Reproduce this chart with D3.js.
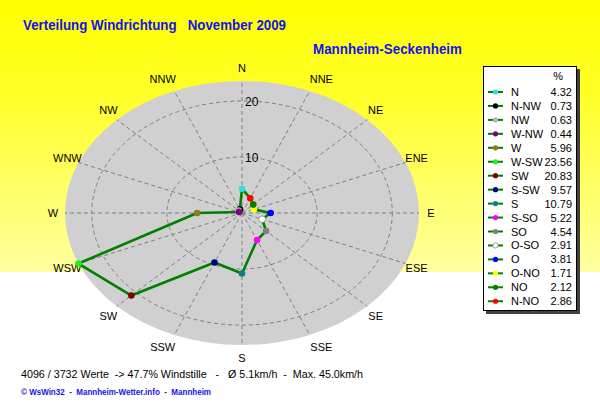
<!DOCTYPE html>
<html><head><meta charset="utf-8">
<script src="https://cdn.jsdelivr.net/npm/d3@7"></script>
<style>
html,body{margin:0;padding:0;background:#fff;}
svg{display:block;font-family:"Liberation Sans",Arial,sans-serif;}
</style></head>
<body>
<svg id="chart" width="600" height="412"></svg>
<script>
// ---- data ----
const legendLabels = ["N","N-NW","NW","W-NW","W","W-SW","SW","S-SW","S","S-SO","SO","O-SO","O","O-NO","NO","N-NO"];
const values = [4.32,0.73,0.63,0.44,5.96,23.56,20.83,9.57,10.79,5.22,4.54,2.91,3.81,1.71,2.12,2.86];
const markerColors = ["#33DDDD","#000000","#B4B4B4","#800080","#8B7B1A","#22EE22","#800000","#000080","#108080","#FF00FF","#808080","#FFFFFF","#0000FF","#FFFF00","#008000","#FF0000"];
const axisLabels = ["N","NNE","NE","ENE","E","ESE","SE","SSE","S","SSW","SW","WSW","W","WNW","NW","NNW"];
const ringTicks = [10, 20];
const titleText = "Verteilung Windrichtung   November 2009";
const stationText = "Mannheim-Seckenheim";
const statsText = "4096 / 3732 Werte  -> 47.7% Windstille   -   Ø 5.1km/h  -  Max. 45.0km/h";
const footerText = "© WsWin32  -  Mannheim-Wetter.info  -  Mannheim";

// ---- layout ----
const svg = d3.select("#chart");
const W = 600, H = 412;
const cx = 242, cy = 213, RX = 177, RY = 132;
const maxVal = d3.max(values);
const sx = d3.scaleLinear().domain([0, maxVal]).range([0, RX]);
const sy = d3.scaleLinear().domain([0, maxVal]).range([0, RY]);
const rad = d => d * Math.PI / 180;

// background gradient
const defs = svg.append("defs");
const grad = defs.append("linearGradient").attr("id","bg").attr("x1",0).attr("y1",0).attr("x2",0).attr("y2",1);
grad.append("stop").attr("offset","0").attr("stop-color","#FFFF00");
grad.append("stop").attr("offset","0.35").attr("stop-color","#FFFF28");
grad.append("stop").attr("offset","1").attr("stop-color","#FFFFA0");
svg.append("rect").attr("width",W).attr("height",H).attr("fill","#fff");
svg.append("rect").attr("width",W).attr("height",272).attr("fill","url(#bg)");

// titles
svg.append("text").attr("x",23).attr("y",30).attr("fill","#1414E6")
  .attr("font-weight","bold").attr("font-size",14).attr("xml:space","preserve")
  .attr("textLength",263).attr("lengthAdjust","spacingAndGlyphs")
  .style("white-space","pre").text(titleText);
svg.append("text").attr("x",313).attr("y",54).attr("fill","#1414E6")
  .attr("font-weight","bold").attr("font-size",14)
  .attr("textLength",149).attr("lengthAdjust","spacingAndGlyphs").text(stationText);

// disc
svg.append("ellipse").attr("cx",cx).attr("cy",cy).attr("rx",RX).attr("ry",RY).attr("fill","#D0D0D0");

// grid rings
const grid = svg.append("g").attr("fill","none").attr("stroke","#808080").attr("stroke-width",1).attr("stroke-dasharray","4,3");
grid.selectAll("ellipse").data(ringTicks).join("ellipse")
  .attr("cx",cx).attr("cy",cy).attr("rx",d=>sx(d)).attr("ry",d=>sy(d));
grid.selectAll("line").data(axisLabels).join("line")
  .attr("x1",cx).attr("y1",cy)
  .attr("x2",(d,i)=>cx + RX*Math.sin(rad(i*22.5)))
  .attr("y2",(d,i)=>cy - RY*Math.cos(rad(i*22.5)));

// ring labels
svg.append("g").selectAll("text").data(ringTicks).join("text")
  .attr("x",cx+3).attr("y",d=>cy - sy(d) + 5)
  .attr("font-size",12).attr("fill","#000").text(d=>d);

// axis labels
const LRX = 189, LRY = 145;
svg.append("g").selectAll("text").data(axisLabels).join("text")
  .attr("x",(d,i)=>cx + LRX*Math.sin(rad(i*22.5)) + (i===1||i===7?7:(i===9||i===15?-7:0)))
  .attr("y",(d,i)=>cy - LRY*Math.cos(rad(i*22.5)) + 4)
  .attr("text-anchor","middle").attr("font-size",11).attr("fill","#000").text(d=>d);

// data polygon
const pts = values.map((v,i)=>{
  const a = rad(-22.5*i);
  return [cx + sx(v)*Math.sin(a), cy - sy(v)*Math.cos(a)];
});
svg.append("path").attr("d", d3.line().curve(d3.curveLinearClosed)(pts))
  .attr("fill","none").attr("stroke","#008000").attr("stroke-width",2.6).attr("stroke-linejoin","round");
svg.append("g").selectAll("circle").data(pts).join("circle")
  .attr("cx",d=>d[0]).attr("cy",d=>d[1]).attr("r",3.3)
  .attr("fill",(d,i)=>markerColors[i])
  .attr("stroke",(d,i)=>markerColors[i]==="#FFFFFF"?"#888":"none").attr("stroke-width",0.8);

// legend
const lg = svg.append("g");
lg.append("rect").attr("x",486).attr("y",69).attr("width",94).attr("height",245).attr("fill","#404040");
lg.append("rect").attr("x",483.5).attr("y",66.5).attr("width",93).attr("height",244).attr("fill","#fff").attr("stroke","#000").attr("stroke-width",1);
lg.append("text").attr("x",563).attr("y",80).attr("text-anchor","end").attr("font-size",11).text("%");
const rowY = i => 92 + i*13.95;
const rows = lg.selectAll("g.row").data(legendLabels).join("g").attr("class","row")
  .attr("transform",(d,i)=>`translate(0,${rowY(i)})`);
rows.append("line").attr("x1",488).attr("x2",503).attr("y1",0).attr("y2",0).attr("stroke","#008000").attr("stroke-width",2);
rows.append("circle").attr("cx",495.5).attr("cy",0).attr("r",2.6)
  .attr("fill",(d,i)=>markerColors[i])
  .attr("stroke",(d,i)=>markerColors[i]==="#FFFFFF"?"#888":"none").attr("stroke-width",0.8);
rows.append("text").attr("x",511).attr("y",4).attr("font-size",11).attr("fill","#000").text(d=>d);
rows.append("text").attr("x",572).attr("y",4).attr("text-anchor","end").attr("font-size",11).attr("fill","#000")
  .text((d,i)=>values[i].toFixed(2));

// bottom texts
svg.append("text").attr("x",21).attr("y",378).attr("font-size",11).attr("fill","#000")
  .attr("xml:space","preserve").style("white-space","pre")
  .attr("textLength",342).attr("lengthAdjust","spacingAndGlyphs").text(statsText);
svg.append("text").attr("x",21).attr("y",395).attr("font-size",9).attr("font-weight","bold").attr("fill","#1414E6")
  .attr("xml:space","preserve").style("white-space","pre")
  .attr("textLength",190).attr("lengthAdjust","spacingAndGlyphs").text(footerText);
</script>
</body></html>
